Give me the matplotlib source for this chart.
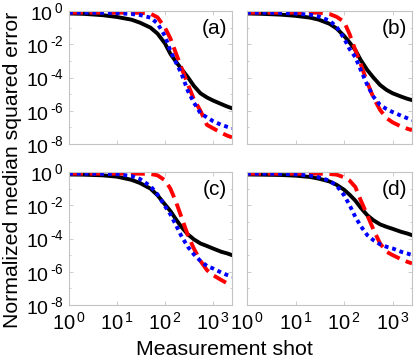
import numpy as np
import matplotlib
matplotlib.use('Agg')
import matplotlib.pyplot as plt
from matplotlib.ticker import FixedLocator, NullFormatter

plt.rcParams['font.family'] = ['Liberation Sans', 'DejaVu Sans']

# measurement shots (x) and log10 of the normalized median squared error
shots = [1, 2, 5, 10, 20, 30, 50, 70, 100, 130, 170, 220, 300, 400, 550, 750, 1000, 1500, 2000, 2500]

a_black = [-0.15, -0.17, -0.25, -0.36, -0.52, -0.7, -1.0, -1.36, -1.95, -2.58, -3.05, -3.48, -3.98, -4.5, -4.95, -5.2, -5.38, -5.6, -5.75, -5.85]
a_blue = [-0.1, -0.1, -0.11, -0.13, -0.18, -0.24, -0.4, -0.75, -1.5, -2.4, -3.1, -3.75, -4.8, -5.5, -6.15, -6.4, -6.62, -6.85, -6.97, -7.05]
a_red = [-0.1, -0.1, -0.1, -0.1, -0.1, -0.11, -0.16, -0.38, -1.0, -1.65, -2.55, -3.4, -4.4, -5.3, -6.0, -6.85, -7.05, -7.33, -7.5, -7.6]

b_black = [-0.15, -0.17, -0.22, -0.29, -0.4, -0.52, -0.77, -1.05, -1.5, -1.9, -2.35, -2.95, -3.55, -4.0, -4.45, -4.75, -4.95, -5.15, -5.28, -5.36]
b_blue = [-0.1, -0.1, -0.12, -0.15, -0.23, -0.33, -0.58, -0.95, -1.65, -2.3, -2.77, -3.55, -4.45, -5.15, -5.65, -5.9, -6.08, -6.3, -6.45, -6.57]
b_red = [-0.1, -0.1, -0.1, -0.1, -0.1, -0.1, -0.18, -0.35, -0.65, -1.4, -2.35, -3.2, -4.3, -5.2, -5.95, -6.45, -6.7, -6.95, -7.08, -7.17]

c_black = [-0.15, -0.16, -0.2, -0.28, -0.47, -0.66, -1.0, -1.4, -1.95, -2.35, -2.85, -3.3, -3.75, -4.05, -4.3, -4.45, -4.6, -4.8, -4.9, -5.0]
c_blue = [-0.1, -0.1, -0.11, -0.13, -0.24, -0.42, -0.85, -1.35, -2.05, -2.55, -3.2, -3.85, -4.5, -4.95, -5.35, -5.65, -5.8, -6.05, -6.2, -6.3]
c_red = [-0.1, -0.1, -0.1, -0.1, -0.1, -0.1, -0.12, -0.2, -0.5, -1.0, -1.8, -2.7, -3.8, -4.6, -5.35, -5.9, -6.2, -6.5, -6.7, -6.8]

d_black = [-0.15, -0.16, -0.18, -0.22, -0.3, -0.4, -0.57, -0.77, -1.07, -1.37, -1.72, -2.15, -2.6, -2.9, -3.15, -3.3, -3.42, -3.6, -3.7, -3.8]
d_blue = [-0.1, -0.1, -0.11, -0.14, -0.22, -0.32, -0.52, -0.82, -1.4, -2.0, -2.7, -3.25, -3.8, -4.1, -4.35, -4.5, -4.6, -4.8, -4.9, -5.0]
d_red = [-0.1, -0.1, -0.1, -0.1, -0.1, -0.1, -0.12, -0.16, -0.32, -0.52, -0.9, -1.7, -2.6, -3.45, -4.3, -4.8, -5.0, -5.25, -5.4, -5.5]

panels = [('(a)', a_black, a_blue, a_red),
          ('(b)', b_black, b_blue, b_red),
          ('(c)', c_black, c_blue, c_red),
          ('(d)', d_black, d_blue, d_red)]

xticks = [1, 10, 100, 1000]
xlabels = [r'$\mathregular{10^{\,%d}}$' % k for k in range(4)]
yticks = [1e-8, 1e-6, 1e-4, 1e-2, 1]
# plain hyphen in the exponent, as in the original figure
ylabels = [r'$\mathregular{10^{\,' + s + '}}$' for s in ['\u20108', '\u20106', '\u20104', '\u20102', '0']]

W, H = 415, 358
fig = plt.figure(figsize=(W / 100, H / 100), dpi=100)
boxes = [(69, 11, 163), (247, 11, 165), (69, 172, 163), (247, 172, 165)]
grey = '#c4c4c4'

for i, (lab, blk, blu, red) in enumerate(panels):
    x0, y0, w = boxes[i]
    ax = fig.add_axes([x0 / W, 1 - (y0 + 133) / H, w / W, 133 / H])
    x = np.array(shots)
    ax.plot(x, 10 ** np.array(blk), color='k', lw=2.8)
    ax.plot(x, 10 ** np.array(red), color='#ff0000', lw=2.8, dashes=(3.6, 1.7))
    ax.plot(x, 10 ** np.array(blu), color='#0000ff', lw=2.8, dashes=(1, 1))
    ax.set_xscale('log')
    ax.set_yscale('log')
    ax.set_xlim(1, 2500)
    ax.set_ylim(1e-8, 1)
    ax.xaxis.set_major_locator(FixedLocator(xticks))
    ax.yaxis.set_major_locator(FixedLocator(yticks))
    ax.yaxis.set_minor_locator(FixedLocator([10.0 ** k for k in range(-8, 1)]))
    ax.yaxis.set_minor_formatter(NullFormatter())
    ax.xaxis.set_minor_formatter(NullFormatter())
    if i % 2 == 0:
        ax.set_yticklabels(ylabels, fontsize=14)
    else:
        ax.set_yticklabels([])
    if i >= 2:
        ax.set_xticklabels(xlabels, fontsize=14.5)
    else:
        ax.set_xticklabels([])
    ax.tick_params(which='both', direction='in', color=grey, length=3, width=0.6,
                   top=True, right=True)
    ax.tick_params(axis='y', pad=4)
    ax.tick_params(axis='x', pad=5)
    ax.tick_params(which='minor', length=1.5)
    for s in ax.spines.values():
        s.set_color(grey)
        s.set_linewidth(0.8)
    ax.text(0.97, 0.94, lab, transform=ax.transAxes, ha='right', va='top', fontsize=15)

fig.text(18 / W, 1 - 170 / H, 'Normalized median squared error', rotation=90,
         rotation_mode='anchor', ha='center', va='baseline', fontsize=15.3)
fig.text(224 / W, 1 - 355 / H, 'Measurement shot', ha='center', va='baseline', fontsize=15.4)

fig.savefig('out.png', dpi=100)
